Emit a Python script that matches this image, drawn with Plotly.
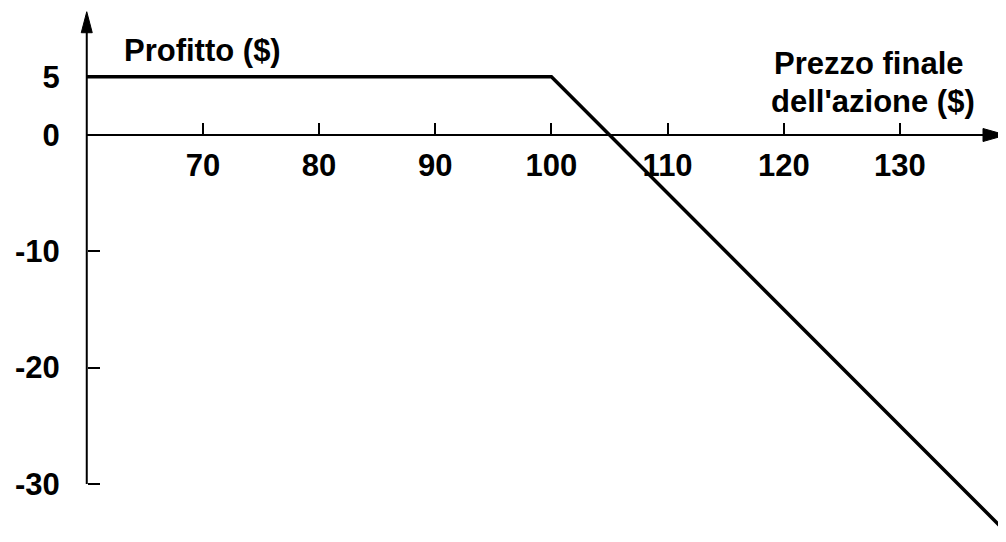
import plotly.graph_objects as go

# Data
prezzo = [60, 100, 138.8]          # final stock price ($)
profitto = [5, 5, -33.8]           # profit ($)
x_ticks = [70, 80, 90, 100, 110, 120, 130]
y_ticks = [5, 0, -10, -20, -30]
y_tick_labels = ["5", "0", "-10", "-20", "-30"]

FONT = "Liberation Sans"
FS = 31
W, H = 998, 534   # page has an 8px body margin
OFF = 8

X_RANGE = [53.22, 139.13]
Y_RANGE = [-34.99, 10.92]
X0 = 60
X_POS = (X0 - X_RANGE[0]) / (X_RANGE[1] - X_RANGE[0])
Y_POS = (0 - Y_RANGE[0]) / (Y_RANGE[1] - Y_RANGE[0])


def px(p):
    return (p - OFF) / W


def py(p):
    return 1 - (p - OFF) / H


fig = go.Figure()
fig.add_trace(go.Scatter(x=prezzo, y=profitto, mode="lines",
                         line=dict(color="black", width=3.5), hoverinfo="skip"))

shapes = [
    dict(type="line", xref="x", yref="y", x0=X0, x1=X0, y0=-30, y1=10.0,
         line=dict(color="black", width=2)),
    dict(type="line", xref="x", yref="y", x0=X0, x1=138.0, y0=0, y1=0,
         line=dict(color="black", width=2)),
    dict(type="path", xref="x", yref="y", xsizemode="pixel", ysizemode="pixel",
         xanchor=X0, yanchor=10.6, path="M 0 0 L -5.5 -21 L 5.5 -21 Z",
         fillcolor="black", line=dict(color="black", width=1)),
    dict(type="path", xref="x", yref="y", xsizemode="pixel", ysizemode="pixel",
         xanchor=X_RANGE[1], yanchor=0, path="M 0 0 L -23 6.5 L -23 -6.5 Z",
         fillcolor="black", line=dict(color="black", width=1)),
]

tf = dict(family=FONT, size=FS, color="black", weight="bold")

annotations = [
    dict(text="Profitto ($)", xref="paper", yref="paper", x=px(202), y=py(51),
         showarrow=False, font=tf, xanchor="center", yanchor="middle"),
    dict(text="Prezzo finale", xref="paper", yref="paper", x=px(869), y=py(63),
         showarrow=False, font=tf, xanchor="center", yanchor="middle"),
    dict(text="dell'azione ($)", xref="paper", yref="paper", x=px(873), y=py(102),
         showarrow=False, font=tf, xanchor="center", yanchor="middle"),
]

fig.update_layout(
    width=W, height=H, autosize=False,
    margin=dict(l=0, r=0, t=0, b=0, pad=0),
    paper_bgcolor="white", plot_bgcolor="white",
    showlegend=False,
    shapes=shapes, annotations=annotations,
    font=tf,
    xaxis=dict(range=X_RANGE, anchor="free", position=Y_POS, side="bottom",
               showgrid=False, zeroline=False, showline=False,
               tickmode="array", tickvals=x_ticks, ticktext=[str(v) for v in x_ticks],
               ticks="inside", ticklen=12, tickwidth=2, tickcolor="black",
               ticklabelstandoff=9, tickfont=tf),
    yaxis=dict(range=Y_RANGE, anchor="free", position=X_POS, side="left",
               showgrid=False, zeroline=False, showline=False,
               tickmode="array", tickvals=y_ticks, ticktext=y_tick_labels,
               ticks="inside", ticklen=12, tickwidth=2, tickcolor="black",
               ticklabelstandoff=27, tickfont=tf),
)

fig.write_html("out.html")
